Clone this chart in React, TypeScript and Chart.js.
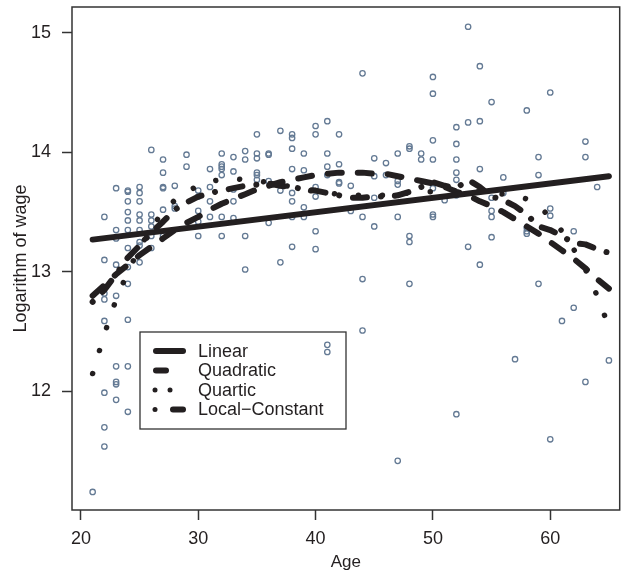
import React, { useEffect, useRef } from "react";
import { Chart, registerables } from "chart.js";

Chart.register(...registerables);

const INK = "#231f20";
const POINT_COLOR = "#647a94";
const FONT = "'Liberation Sans', Arial, Helvetica, sans-serif";

// Observed data: ages and log wages at each age
const obsAges = [
  21, 22, 23, 24, 25, 26, 27, 28, 29, 30, 31, 32, 33, 34, 35, 36, 37, 38, 39, 40, 41, 42, 43,
  44, 45, 46, 47, 48, 49, 50, 51, 52, 53, 54, 55, 56, 57, 58, 59, 60, 61, 62, 63, 64, 65,
];
const obsLogWage = [
  [11.16],
  [13.46, 13.1, 12.82, 12.77, 12.59, 11.99, 11.7, 11.54],
  [13.7, 13.35, 13.28, 13.06, 12.8, 12.21, 12.08, 12.06, 11.93],
  [13.68, 13.67, 13.59, 13.5, 13.43, 13.35, 13.2, 13.04, 12.9, 12.6, 12.21, 11.83],
  [13.71, 13.66, 13.59, 13.48, 13.43, 13.35, 13.25, 13.22, 13.08],
  [14.02, 13.48, 13.43, 13.38, 13.3, 13.2],
  [13.94, 13.83, 13.71, 13.7, 13.52, 13.3],
  [13.72, 13.55, 13.53],
  [13.98, 13.88],
  [13.68, 13.63, 13.51, 13.42, 13.3],
  [13.86, 13.71, 13.59, 13.46],
  [13.99, 13.9, 13.88, 13.86, 13.81, 13.46, 13.3],
  [13.96, 13.84, 13.69, 13.59, 13.45],
  [14.01, 13.94, 13.3, 13.02],
  [14.15, 13.99, 13.95, 13.83, 13.81, 13.77],
  [13.99, 13.98, 13.76, 13.41],
  [14.18, 13.68, 13.08],
  [14.15, 14.12, 14.03, 13.86, 13.66, 13.59, 13.46, 13.21],
  [13.99, 13.85, 13.54, 13.46],
  [14.22, 14.15, 13.71, 13.63, 13.34, 13.19],
  [14.26, 13.99, 13.88, 13.81, 12.39, 12.33],
  [14.15, 13.9, 13.75, 13.74],
  [13.72, 13.51],
  [14.66, 13.46, 12.94, 12.51],
  [13.95, 13.8, 13.62, 13.38],
  [13.91, 13.81],
  [13.99, 13.76, 13.73, 13.46, 11.42],
  [14.05, 14.03, 13.3, 13.25, 12.9],
  [13.99, 13.94],
  [14.63, 14.49, 14.1, 13.94, 13.7, 13.48, 13.46],
  [13.6],
  [14.21, 14.07, 13.94, 13.83, 13.77, 13.64, 11.81],
  [15.05, 14.25, 13.21],
  [14.72, 14.26, 13.86, 13.06],
  [14.42, 13.62, 13.51, 13.46, 13.29],
  [13.79, 13.66],
  [12.27],
  [14.35, 13.37, 13.34, 13.32],
  [13.96, 13.81, 12.9],
  [14.5, 13.53, 13.47, 11.6],
  [12.59],
  [13.34, 12.7],
  [14.09, 13.96, 12.08],
  [13.71],
  [12.26],
];

// Fitted curves
const linearAges = [21, 65];
const linearFit = [13.27, 13.8];

const fitAges = [
  21, 22, 23, 24, 25, 26, 27, 28, 29, 30, 31, 32, 33, 34, 35, 36, 37, 38, 39, 40, 41, 42, 43,
  44, 45, 46, 47, 48, 49, 50, 51, 52, 53, 54, 55, 56, 57, 58, 59, 60, 61, 62, 63, 64, 65,
];
const quadraticFit = [
  12.8, 12.89, 12.98, 13.06, 13.14, 13.21, 13.28, 13.35, 13.41, 13.46, 13.52, 13.57, 13.61,
  13.65, 13.69, 13.72, 13.75, 13.77, 13.79, 13.81, 13.82, 13.83, 13.83, 13.83, 13.82, 13.82,
  13.8, 13.78, 13.76, 13.74, 13.71, 13.67, 13.64, 13.59, 13.55, 13.5, 13.44, 13.38, 13.32,
  13.25, 13.18, 13.11, 13.03, 12.94, 12.86,
];
const quarticFit = [
  12.15, 12.48, 12.77, 13.0, 13.2, 13.37, 13.5, 13.6, 13.67, 13.72, 13.76, 13.77, 13.78, 13.77,
  13.76, 13.75, 13.73, 13.71, 13.69, 13.67, 13.66, 13.65, 13.64, 13.64, 13.64, 13.64, 13.65,
  13.66, 13.67, 13.67, 13.68, 13.68, 13.67, 13.67, 13.66, 13.65, 13.64, 13.61, 13.55, 13.46,
  13.34, 13.19, 13.02, 12.8, 12.54,
];
const localConstantFit = [
  12.75, 12.85, 12.98, 13.12, 13.22, 13.33, 13.42, 13.52, 13.58, 13.63, 13.66, 13.68, 13.7,
  13.72, 13.73, 13.74, 13.72, 13.71, 13.69, 13.68, 13.66, 13.64, 13.62, 13.62, 13.63, 13.63,
  13.64, 13.67, 13.71, 13.75, 13.72, 13.7, 13.77, 13.71, 13.63, 13.6, 13.55, 13.48, 13.38,
  13.35, 13.3, 13.24, 13.23, 13.19, 13.16,
];

const xTicks = [20, 30, 40, 50, 60];
const yTicks = [12, 13, 14, 15];
const legendLabels = ["Linear", "Quadratic", "Quartic", "Local\u2212Constant"];

const framePlugin = {
  id: "frame",
  beforeDatasetsDraw(chart: any) {
    const { ctx, chartArea } = chart;
    ctx.save();
    ctx.strokeStyle = "#333333";
    ctx.lineWidth = 1.5;
    ctx.strokeRect(chartArea.left, chartArea.top, chartArea.right - chartArea.left, chartArea.bottom - chartArea.top);
    ctx.restore();
  },
};

const legendPlugin = {
  id: "customLegend",
  afterDatasetsDraw(chart: any) {
    const { ctx, chartArea } = chart;
    const bx = chartArea.left + 68;
    const by = chartArea.top + 325;
    const bw = 206;
    const bh = 97;
    ctx.save();
    ctx.strokeStyle = "#333333";
    ctx.lineWidth = 1.3;
    ctx.strokeRect(bx, by, bw, bh);
    const rowY = [19, 38.5, 58, 77.5].map((d) => by + d);
    const sx = bx + 13;
    ctx.strokeStyle = INK;
    ctx.lineCap = "round";
    ctx.lineWidth = 6;
    const seg = (x1: number, x2: number, y: number) => {
      ctx.beginPath();
      ctx.moveTo(x1, y);
      ctx.lineTo(x2, y);
      ctx.stroke();
    };
    seg(sx + 3, sx + 30, rowY[0]);
    seg(sx + 3, sx + 13, rowY[1]);
    ctx.lineWidth = 5;
    seg(sx + 2, sx + 2.01, rowY[2]);
    seg(sx + 17, sx + 17.01, rowY[2]);
    seg(sx + 2, sx + 2.01, rowY[3]);
    ctx.lineWidth = 6;
    seg(sx + 20, sx + 30, rowY[3]);
    ctx.fillStyle = INK;
    ctx.font = `18px ${FONT}`;
    ctx.textBaseline = "middle";
    ctx.textAlign = "left";
    legendLabels.forEach((t, i) => ctx.fillText(t, bx + 58, rowY[i] + 1));
    ctx.restore();
  },
};

export default function App() {
  const ref = useRef<HTMLCanvasElement | null>(null);
  useEffect(() => {
    if (!ref.current) return;
    const points: { x: number; y: number }[] = [];
    obsAges.forEach((a, i) => obsLogWage[i].forEach((v) => points.push({ x: a, y: v })));
    const toXY = (xs: number[], ys: number[]) => xs.map((x, i) => ({ x, y: ys[i] }));
    const lineBase = {
      type: "line" as const,
      borderColor: INK,
      borderWidth: 6,
      pointRadius: 0,
      borderCapStyle: "round" as const,
      borderJoinStyle: "round" as const,
      tension: 0,
      fill: false,
    };
    const chart = new Chart(ref.current, {
      type: "scatter",
      data: {
        datasets: [
          { ...lineBase, label: legendLabels[0], data: toXY(linearAges, linearFit) },
          { ...lineBase, label: legendLabels[1], data: toXY(fitAges, quadraticFit), borderDash: [14, 16] },
          { ...lineBase, label: legendLabels[2], data: toXY(fitAges, quarticFit), borderWidth: 5.5, borderDash: [0.01, 24] },
          { ...lineBase, label: legendLabels[3], data: toXY(fitAges, localConstantFit), borderDash: [0.01, 14, 14, 14] },
          {
            type: "scatter" as const,
            label: "obs",
            data: points,
            pointRadius: 2.7,
            pointBorderWidth: 1.3,
            pointBackgroundColor: "rgba(0,0,0,0)",
            pointBorderColor: POINT_COLOR,
            showLine: false,
          },
        ] as any,
      },
      options: {
        animation: false,
        responsive: true,
        maintainAspectRatio: false,
        layout: { padding: { top: 7, right: -3, left: 0, bottom: 0 } },
        plugins: { legend: { display: false }, tooltip: { enabled: false } },
        scales: {
          x: {
            type: "linear",
            min: 19.24,
            max: 65.92,
            afterBuildTicks: (s: any) => {
              s.ticks = xTicks.map((v) => ({ value: v }));
            },
            afterFit: (s: any) => {
              s.height = 64;
              s.paddingLeft = 0;
              s.paddingRight = 0;
            },
            grid: { display: true, drawOnChartArea: false, drawTicks: true, tickLength: 10, color: "#333333", tickColor: "#333333", tickWidth: 1.5 },
            border: { display: false },
            ticks: { font: { family: FONT, size: 18 }, color: INK, padding: 8, maxRotation: 0, autoSkip: false },
            title: { display: true, text: "Age", font: { family: FONT, size: 17 }, color: INK, padding: { top: 0, bottom: 1 } },
          },
          y: {
            type: "linear",
            min: 11.009,
            max: 15.215,
            afterBuildTicks: (s: any) => {
              s.ticks = yTicks.map((v) => ({ value: v }));
            },
            afterFit: (s: any) => {
              s.width = 72;
              s.paddingTop = 0;
              s.paddingBottom = 0;
            },
            grid: { display: true, drawOnChartArea: false, drawTicks: true, tickLength: 10, color: "#333333", tickColor: "#333333", tickWidth: 1.5 },
            border: { display: false },
            ticks: { font: { family: FONT, size: 18 }, color: INK, padding: 11, autoSkip: false },
            title: { display: true, text: "Logarithm of wage", font: { family: FONT, size: 18 }, color: INK, padding: { top: 10, bottom: 0 } },
          },
        },
      },
      plugins: [framePlugin, legendPlugin],
    });
    return () => chart.destroy();
  }, []);
  return (
    <div style={{ position: "fixed", left: 0, top: 0, width: 625, height: 574, background: "#fff" }}>
      <canvas ref={ref} />
    </div>
  );
}
